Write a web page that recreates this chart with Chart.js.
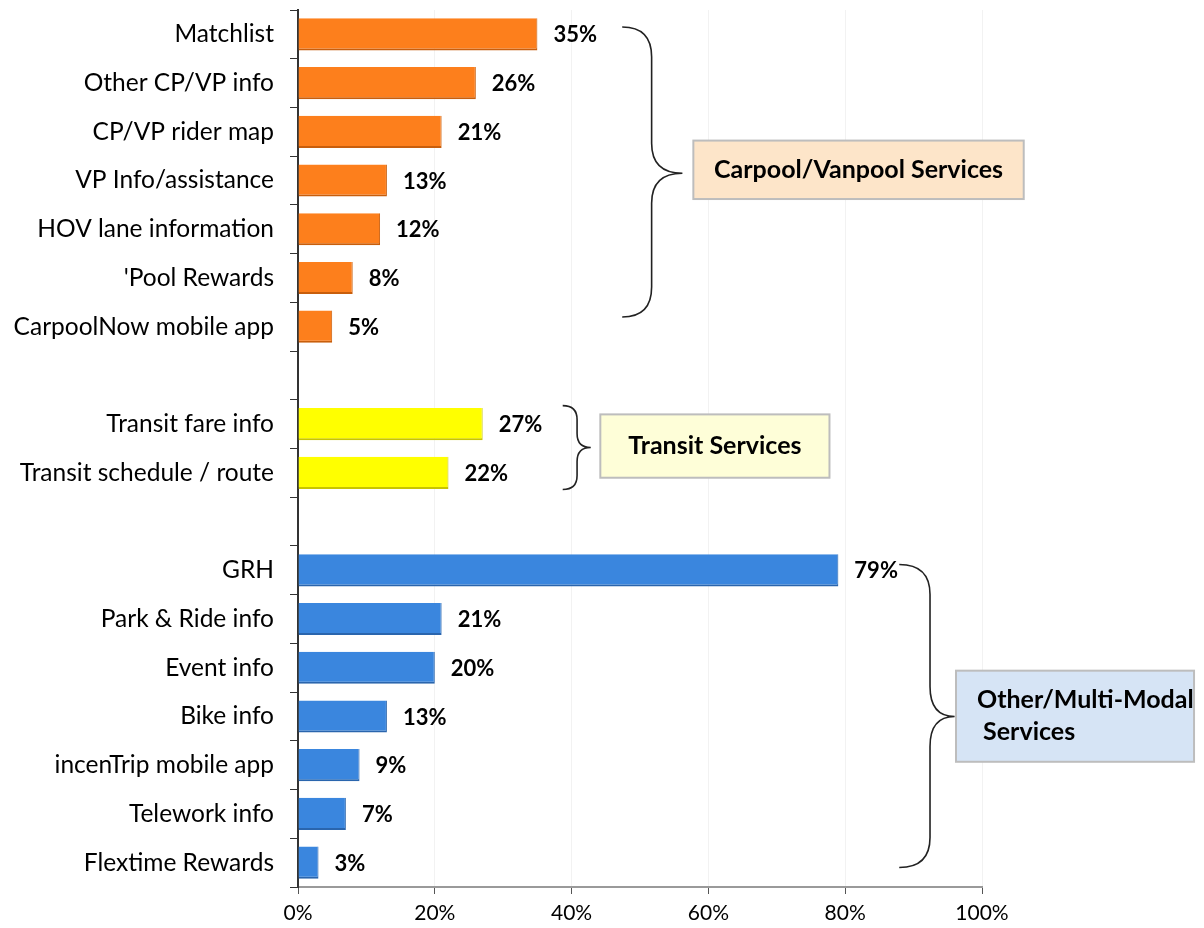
<!DOCTYPE html>
<html>
<head>
<meta charset="utf-8">
<script src="https://cdn.jsdelivr.net/npm/chart.js@4"></script>
<style>
  html, body { margin: 0; padding: 0; background: #fff; }
  #wrap { width: 1204px; height: 928px; }
</style>
</head>
<body>
<div id="wrap"><canvas id="chart" width="1204" height="928"></canvas></div>
<script>
// ------------------------------------------
// Data (blank entries are the gaps between groups)
// ------------------------------------------
const serviceLabels = [
  "Matchlist", "Other CP/VP info", "CP/VP rider map", "VP Info/assistance",
  "HOV lane information", "'Pool Rewards", "CarpoolNow mobile app",
  "",
  "Transit fare info", "Transit schedule / route",
  "",
  "GRH", "Park & Ride info", "Event info", "Bike info",
  "incenTrip mobile app", "Telework info", "Flextime Rewards"
];
const usePercent = [
  35, 26, 21, 13, 12, 8, 5,
  null,
  27, 22,
  null,
  79, 21, 20, 13, 9, 7, 3
];
const groupOf = [
  "cp", "cp", "cp", "cp", "cp", "cp", "cp",
  null,
  "tr", "tr",
  null,
  "mm", "mm", "mm", "mm", "mm", "mm", "mm"
];
const xTicks = [0, 20, 40, 60, 80, 100];

const groupFill = { cp: "#fd7f1c", tr: "#ffff00", mm: "#3a86de" };
const groupEdge = { cp: "#c85e0c", tr: "#c8c400", mm: "#2a65ad" };

// group callouts: brace spans in category units, x in percent units
const callouts = [
  { from: -0.15, to: 5.8, tip: 2.85, x0: 47.4, xv: 51.7, xt: 56.2, r: 30,
    box: [57.8, 2.18, 106.1, 3.38], fill: "#fde5c9",
    lines: ["Carpool/Vanpool Services"], align: "center" },
  { from: 7.62, to: 9.34, tip: 8.48, x0: 38.7, xv: 40.8, xt: 42.8, r: 14,
    box: [44.2, 7.8, 77.7, 9.1], fill: "#fefed8",
    lines: ["Transit Services"], align: "center" },
  { from: 10.88, to: 17.1, tip: 14.0, x0: 87.9, xv: 92.4, xt: 96.0, r: 30,
    box: [96.2, 13.06, 131, 14.93], fill: "#d6e4f5",
    lines: ["Other/Multi-Modal", " Services"], align: "left" }
];

// ------------------------------------------
// Plugins
// ------------------------------------------
const valueLabels = {
  id: "valueLabels",
  afterDatasetsDraw(chart) {
    const ctx = chart.ctx;
    const meta = chart.getDatasetMeta(0);
    ctx.save();
    ctx.font = "bold 22px Lato";
    ctx.fillStyle = "#000";
    ctx.textBaseline = "middle";
    ctx.textAlign = "left";
    meta.data.forEach((bar, i) => {
      if (usePercent[i] == null) return;
      ctx.fillText(usePercent[i] + "%", bar.x + 16, bar.y + 1);
    });
    ctx.restore();
  }
};

const groupCallouts = {
  id: "groupCallouts",
  afterDraw(chart) {
    const ctx = chart.ctx;
    const xs = chart.scales.x, ys = chart.scales.y;
    const px = v => xs.getPixelForValue(v);
    const py = v => ys.getPixelForValue(v);
    ctx.save();
    callouts.forEach(c => {
      const top = py(c.from), bot = py(c.to), mid = py(c.tip);
      const x0 = px(c.x0), xv = px(c.xv), xt = px(c.xt), r = c.r;
      ctx.beginPath();
      ctx.moveTo(x0, top);
      ctx.quadraticCurveTo(xv, top, xv, top + r);
      ctx.lineTo(xv, mid - r);
      ctx.quadraticCurveTo(xv, mid, xt, mid);
      ctx.quadraticCurveTo(xv, mid, xv, mid + r);
      ctx.lineTo(xv, bot - r);
      ctx.quadraticCurveTo(xv, bot, x0, bot);
      ctx.strokeStyle = "#222";
      ctx.lineWidth = 1.6;
      ctx.stroke();

      const bx0 = px(c.box[0]), by0 = py(c.box[1]);
      const bx1 = px(c.box[2]), by1 = py(c.box[3]);
      ctx.fillStyle = c.fill;
      ctx.fillRect(bx0, by0, bx1 - bx0, by1 - by0);
      ctx.strokeStyle = "#bdbdbd";
      ctx.lineWidth = 2;
      ctx.strokeRect(bx0, by0, bx1 - bx0, by1 - by0);

      ctx.fillStyle = "#000";
      ctx.font = "bold 25px Lato";
      ctx.textBaseline = "middle";
      const lh = 32;
      const cy = (by0 + by1) / 2 - (c.lines.length - 1) * lh / 2;
      c.lines.forEach((t, k) => {
        if (c.align === "center") {
          ctx.textAlign = "center";
          ctx.fillText(t, (bx0 + bx1) / 2, cy + k * lh);
        } else {
          ctx.textAlign = "left";
          ctx.fillText(t, bx0 + 21, cy + k * lh);
        }
      });
    });
    ctx.restore();
  }
};

// ------------------------------------------
// Chart
// ------------------------------------------
new Chart(document.getElementById("chart"), {
  type: "bar",
  data: {
    labels: serviceLabels,
    datasets: [{
      data: usePercent,
      backgroundColor: groupOf.map(g => g ? groupFill[g] : "transparent"),
      borderColor: groupOf.map(g => g ? groupEdge[g] : "transparent"),
      borderWidth: { top: 0, left: 0, right: 1, bottom: 2 },
      borderSkipped: false,
      categoryPercentage: 1,
      barPercentage: 0.66
    }]
  },
  options: {
    indexAxis: "y",
    responsive: false,
    animation: false,
    layout: { padding: { top: 10, right: 222, left: 0, bottom: 0 } },
    plugins: {
      legend: { display: false },
      tooltip: { enabled: false }
    },
    scales: {
      x: {
        min: 0, max: 100,
        afterBuildTicks: s => { s.ticks = xTicks.map(v => ({ value: v })); },
        afterFit: s => { s.height = 41; },
        ticks: {
          callback: v => v + "%",
          font: { family: "Lato", size: 21 },
          color: "#000",
          padding: 7
        },
        grid: { color: "#f2f2f2", tickColor: "#555", tickLength: 7, lineWidth: 1 },
        border: { color: "#9a9a9a", width: 2 }
      },
      y: {
        afterFit: s => { s.width = 298; s.paddingTop = 0; s.paddingBottom = 0; },
        ticks: {
          font: { family: "Lato", size: 24.5 },
          color: "#000",
          padding: 16,
          autoSkip: false
        },
        grid: { offset: true, drawOnChartArea: false, tickColor: "#333", tickLength: 8 },
        border: { color: "#333", width: 2 }
      }
    }
  },
  plugins: [valueLabels, groupCallouts]
});
</script>
</body>
</html>
